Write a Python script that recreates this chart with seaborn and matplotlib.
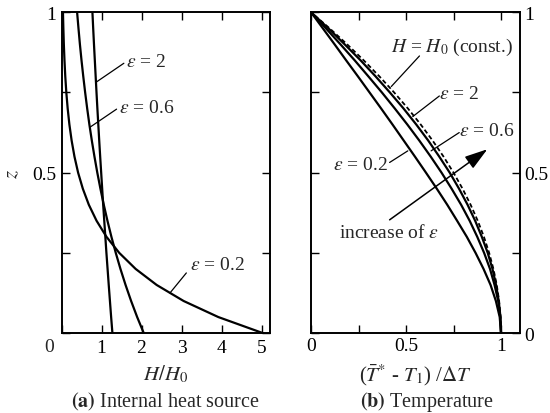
import matplotlib
matplotlib.use("Agg")
import matplotlib.pyplot as plt
import seaborn as sns

# vertical coordinate (shared by all curves)
z = [0.0, 0.05, 0.1, 0.15, 0.2, 0.25, 0.3, 0.35, 0.4, 0.45, 0.5,
     0.55, 0.6, 0.65, 0.7, 0.75, 0.8, 0.85, 0.9, 0.95, 1.0]

# (a) internal heat source H/H0
h_eps02 = [5.034, 3.920, 3.053, 2.378, 1.852, 1.442, 1.123, 0.875, 0.681, 0.531, 0.413,
           0.322, 0.251, 0.195, 0.152, 0.118, 0.092, 0.072, 0.056, 0.044, 0.034]
h_eps06 = [2.055, 1.890, 1.739, 1.600, 1.472, 1.355, 1.246, 1.147, 1.055, 0.971, 0.893,
           0.822, 0.756, 0.695, 0.640, 0.589, 0.542, 0.498, 0.458, 0.422, 0.388]
h_eps2 = [1.271, 1.239, 1.209, 1.179, 1.150, 1.121, 1.094, 1.067, 1.040, 1.015, 0.990,
          0.965, 0.941, 0.918, 0.895, 0.873, 0.852, 0.831, 0.810, 0.790, 0.771]

# (b) temperature (T* - T1)/dT
t_eps02 = [1.000, 0.993, 0.973, 0.945, 0.908, 0.866, 0.820, 0.769, 0.717, 0.662, 0.605,
           0.547, 0.488, 0.429, 0.369, 0.308, 0.247, 0.185, 0.124, 0.062, 0.000]
t_eps06 = [1.000, 0.996, 0.985, 0.966, 0.942, 0.911, 0.875, 0.835, 0.790, 0.740, 0.687,
           0.630, 0.570, 0.507, 0.441, 0.373, 0.302, 0.230, 0.155, 0.078, 0.000]
t_eps2 = [1.000, 0.997, 0.988, 0.974, 0.955, 0.930, 0.899, 0.864, 0.824, 0.779, 0.730,
          0.675, 0.617, 0.554, 0.487, 0.415, 0.340, 0.261, 0.177, 0.091, 0.000]
t_const = [1.000, 0.9975, 0.990, 0.9775, 0.960, 0.9375, 0.910, 0.8775, 0.840, 0.7975, 0.750,
           0.6975, 0.640, 0.5775, 0.510, 0.4375, 0.360, 0.2775, 0.190, 0.0975, 0.000]

sns.set_theme(style="ticks")
plt.rcParams["font.family"] = ["Liberation Serif", "DejaVu Serif"]
plt.rcParams["mathtext.fontset"] = "stix"

FS = 14
LW = 1.6

fig = plt.figure(figsize=(5.5, 4.14), dpi=100)
ax1 = fig.add_axes([0.112, 0.193, 0.378, 0.775])
ax2 = fig.add_axes([0.5655, 0.193, 0.38, 0.775])

for h in (h_eps02, h_eps06, h_eps2):
    sns.lineplot(x=h, y=z, sort=False, estimator=None, color="black", lw=LW, ax=ax1)

for t in (t_eps02, t_eps06, t_eps2):
    sns.lineplot(x=t, y=z, sort=False, estimator=None, color="black", lw=LW, ax=ax2)
sns.lineplot(x=t_const, y=z, sort=False, estimator=None, color="black", lw=1.3,
             linestyle=(0, (2.5, 1.5)), ax=ax2)

for ax in (ax1, ax2):
    for sp in ax.spines.values():
        sp.set_linewidth(1.4)
        sp.set_color("black")
    ax.set_ylim(0, 1)
    ax.set_yticks([0, 0.25, 0.5, 0.75, 1])
    ax.tick_params(direction="in", top=True, right=True, length=6, width=1,
                   labelsize=FS, colors="black", pad=4)

# panel (a)
ax1.set_xlim(0, 5.2)
ax1.set_xticks([0, 1, 2, 3, 4, 5])
ax1.set_xticklabels(["", "1", "2", "3", "4", "5"])
ax1.set_yticklabels(["", "", "0.5", "", "1"])
ax1.annotate("0", xy=(0, 0), xycoords="axes fraction", xytext=(-12, -13),
             textcoords="offset pixels", ha="center", va="center", fontsize=FS)
ax1.set_xlabel(r"$H/H_0$", fontsize=FS + 1, labelpad=5)
ax1.set_ylabel(r"$z$", fontsize=FS + 1, labelpad=7)

leader = dict(arrowstyle="-", color="black", lw=0.9, shrinkA=0, shrinkB=0)
ax1.annotate("", xy=(0.875, 0.783), xytext=(1.557, 0.841), arrowprops=leader)
ax1.text(1.62, 0.846, r"$\varepsilon$ = 2", fontsize=FS, ha="left", va="center")
ax1.annotate("", xy=(0.725, 0.643), xytext=(1.375, 0.698), arrowprops=leader)
ax1.text(1.44, 0.703, r"$\varepsilon$ = 0.6", fontsize=FS, ha="left", va="center")
ax1.annotate("", xy=(2.71, 0.125), xytext=(3.12, 0.1875), arrowprops=leader)
ax1.text(3.2, 0.215, r"$\varepsilon$ = 0.2", fontsize=FS, ha="left", va="center")

# panel (b)
ax2.set_xlim(0, 1.1)
ax2.set_xticks([0, 0.25, 0.5, 0.75, 1])
ax2.set_xticklabels(["0", "", "0.5", "", "1"])
ax2.set_yticklabels(["0", "", "0.5", "", "1"])
ax2.tick_params(labelleft=False, labelright=True, pad=3)
ax2.set_xlabel(r"($\bar{T}^{*}$ - $T_1$) /$\Delta T$", fontsize=FS + 1, labelpad=5)

ax2.annotate("", xy=(0.4225, 0.7685), xytext=(0.5707, 0.8638), arrowprops=leader)
ax2.text(0.42, 0.892, r"$H$ = $H_0$ (const.)", fontsize=FS, ha="left", va="center")
ax2.annotate("", xy=(0.5356, 0.675), xytext=(0.6754, 0.739), arrowprops=leader)
ax2.text(0.672, 0.748, r"$\varepsilon$ = 2", fontsize=FS, ha="left", va="center")
ax2.annotate("", xy=(0.632, 0.568), xytext=(0.780, 0.625), arrowprops=leader)
ax2.text(0.777, 0.632, r"$\varepsilon$ = 0.6", fontsize=FS, ha="left", va="center")
ax2.annotate("", xy=(0.5094, 0.568), xytext=(0.4136, 0.5318), arrowprops=leader)
ax2.text(0.405, 0.527, r"$\varepsilon$ = 0.2", fontsize=FS, ha="right", va="center")
ax2.annotate("", xy=(0.928, 0.573), xytext=(0.4136, 0.353),
             arrowprops=dict(arrowstyle="-|>,head_length=0.7,head_width=0.22",
                             color="black", lw=1.1, mutation_scale=20,
                             shrinkA=0, shrinkB=0))
ax2.text(0.41, 0.314, r"increase of $\varepsilon$", fontsize=FS, ha="center", va="center")

fig.text(0.30, 0.03, r"$\mathbf{(a)}$ Internal heat source", fontsize=FS + 0.5,
         ha="center", va="center")
fig.text(0.777, 0.03, r"$\mathbf{(b)}$ Temperature", fontsize=FS + 0.5,
         ha="center", va="center")

fig.savefig("out.png", dpi=100)
